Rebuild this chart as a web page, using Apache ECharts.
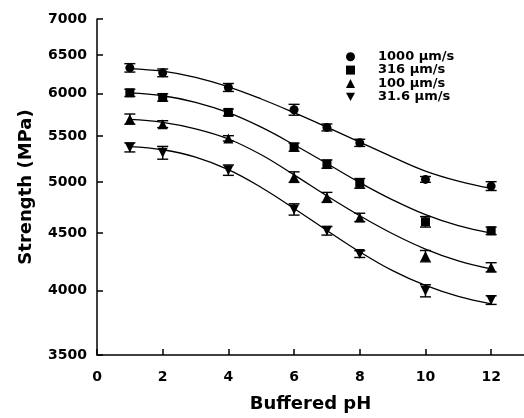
<!DOCTYPE html>
<html>
<head>
<meta charset="utf-8">
<script src="https://cdn.jsdelivr.net/npm/echarts@6/dist/echarts.min.js"></script>
<style>
html,body{margin:0;padding:0;background:#fff;}
#chart{width:524px;height:418px;}
</style>
</head>
<body>
<div id="chart"></div>
<script>
// ---- data ----
const phValues = [1, 2, 4, 6, 7, 8, 10, 12];
const seriesNames = ['1000 \u00b5m/s', '316 \u00b5m/s', '100 \u00b5m/s', '31.6 \u00b5m/s'];
const strength1000 = [6329, 6264, 6078, 5805, 5597, 5422, 5028, 4959];
const strength316  = [6011, 5954, 5773, 5374, 5189, 4987, 4607, 4522];
const strength100  = [5694, 5635, 5472, 5052, 4845, 4649, 4292, 4194];
const strength31   = [5371, 5312, 5125, 4726, 4522, 4310, 3996, 3920];
const err1000 = [55, 50, 50, 65, 40, 40, 30, 45];
const err316  = [45, 45, 40, 45, 45, 50, 50, 35];
const err100  = [60, 40, 30, 55, 50, 40, 50, 40];
const err31   = [50, 70, 55, 55, 40, 30, 50, 35];
// fitted curves read at these pH values
const fitPh = [1, 2, 3, 4, 5, 6, 7, 8, 9, 10, 11, 12];
const fit1000 = [6320, 6285, 6205, 6085, 5935, 5770, 5600, 5430, 5265, 5115, 5010, 4935];
const fit316  = [6010, 5975, 5895, 5770, 5600, 5400, 5195, 4995, 4820, 4675, 4570, 4500];
const fit100  = [5690, 5655, 5580, 5465, 5290, 5075, 4860, 4665, 4495, 4355, 4250, 4180];
const fit31   = [5380, 5345, 5265, 5130, 4945, 4735, 4525, 4330, 4165, 4040, 3950, 3890];
const yTicks = [3500, 4000, 4500, 5000, 5500, 6000, 6500, 7000];
const xTicks = [0, 2, 4, 6, 8, 10, 12];

const FONT = 'DejaVu Sans';
const invTri = 'path://M0,0 L10,0 L5,9 Z';
const symbols = ['circle', 'rect', 'triangle', invTri];
const sizes = [9, 9, 10, 10];
const pointSets = [strength1000, strength316, strength100, strength31];
const errSets = [err1000, err316, err100, err31];
const fitSets = [fit1000, fit316, fit100, fit31];

const series = [];
pointSets.forEach((vals, i) => {
  series.push({
    name: seriesNames[i] + ' fit',
    type: 'line',
    data: fitPh.map((x, j) => [x, fitSets[i][j]]),
    smooth: 0.4,
    showSymbol: false,
    symbol: 'none',
    lineStyle: { color: '#000', width: 1.3 },
    silent: true,
    z: 2
  });
  series.push({
    name: seriesNames[i] + ' err',
    type: 'custom',
    data: phValues.map((x, j) => [x, vals[j] - errSets[i][j], vals[j] + errSets[i][j]]),
    renderItem: function (params, api) {
      const x = api.value(0);
      const lo = api.coord([x, api.value(1)]);
      const hi = api.coord([x, api.value(2)]);
      const w = 5.5;
      const st = { stroke: '#000', lineWidth: 1.4 };
      return {
        type: 'group',
        children: [
          { type: 'line', shape: { x1: lo[0], y1: lo[1], x2: hi[0], y2: hi[1] }, style: st },
          { type: 'line', shape: { x1: lo[0] - w, y1: lo[1], x2: lo[0] + w, y2: lo[1] }, style: st },
          { type: 'line', shape: { x1: hi[0] - w, y1: hi[1], x2: hi[0] + w, y2: hi[1] }, style: st }
        ]
      };
    },
    encode: { x: 0, y: [1, 2] },
    silent: true,
    z: 3
  });
  series.push({
    name: seriesNames[i],
    type: 'scatter',
    data: phValues.map((x, j) => [x, vals[j]]),
    symbol: symbols[i],
    symbolSize: sizes[i],
    itemStyle: { color: '#000', opacity: 1 },
    z: 4
  });
});

const chart = echarts.init(document.getElementById('chart'), null, { renderer: 'canvas' });
chart.setOption({
  animation: false,
  backgroundColor: '#fff',
  grid: { left: 97, right: -5, top: 19, bottom: 63, containLabel: false },
  legend: {
    orient: 'vertical',
    left: 341,
    top: 45,
    itemWidth: 9,
    itemHeight: 9,
    itemGap: 0,
    data: seriesNames.map((n, i) => ({ name: n, icon: symbols[i], itemStyle: { color: '#000', opacity: 1 } })),
    textStyle: { fontFamily: FONT, fontWeight: 'bold', fontSize: 13, color: '#000', lineHeight: 13.4, padding: [0, 0, 0, 18] },
    selectedMode: false
  },
  xAxis: {
    type: 'value',
    min: 0,
    max: 13,
    interval: 2,
    name: 'Buffered pH',
    nameLocation: 'middle',
    nameGap: 40,
    nameTextStyle: { fontFamily: FONT, fontWeight: 'bold', fontSize: 18, color: '#000' },
    axisLine: { lineStyle: { color: '#000', width: 1.5 } },
    axisTick: { inside: true, length: 6, lineStyle: { color: '#000', width: 1.5 }, customValues: xTicks },
    axisLabel: { fontFamily: FONT, fontWeight: 'bold', fontSize: 14, color: '#000', margin: 15, customValues: xTicks },
    splitLine: { show: false }
  },
  yAxis: {
    type: 'log',
    logBase: 10,
    min: 3500,
    max: 7000,
    name: 'Strength (MPa)',
    nameLocation: 'middle',
    nameGap: 62,
    nameTextStyle: { fontFamily: FONT, fontWeight: 'bold', fontSize: 18, color: '#000' },
    axisLine: { lineStyle: { color: '#000', width: 1.5 } },
    axisTick: { inside: true, length: 6, lineStyle: { color: '#000', width: 1.5 }, customValues: yTicks },
    axisLabel: {
      fontFamily: FONT, fontWeight: 'bold', fontSize: 14, color: '#000', margin: 10,
      customValues: yTicks,
      formatter: function (v) { return String(Math.round(v)); }
    },
    splitLine: { show: false }
  },
  series: series
});
</script>
</body>
</html>
